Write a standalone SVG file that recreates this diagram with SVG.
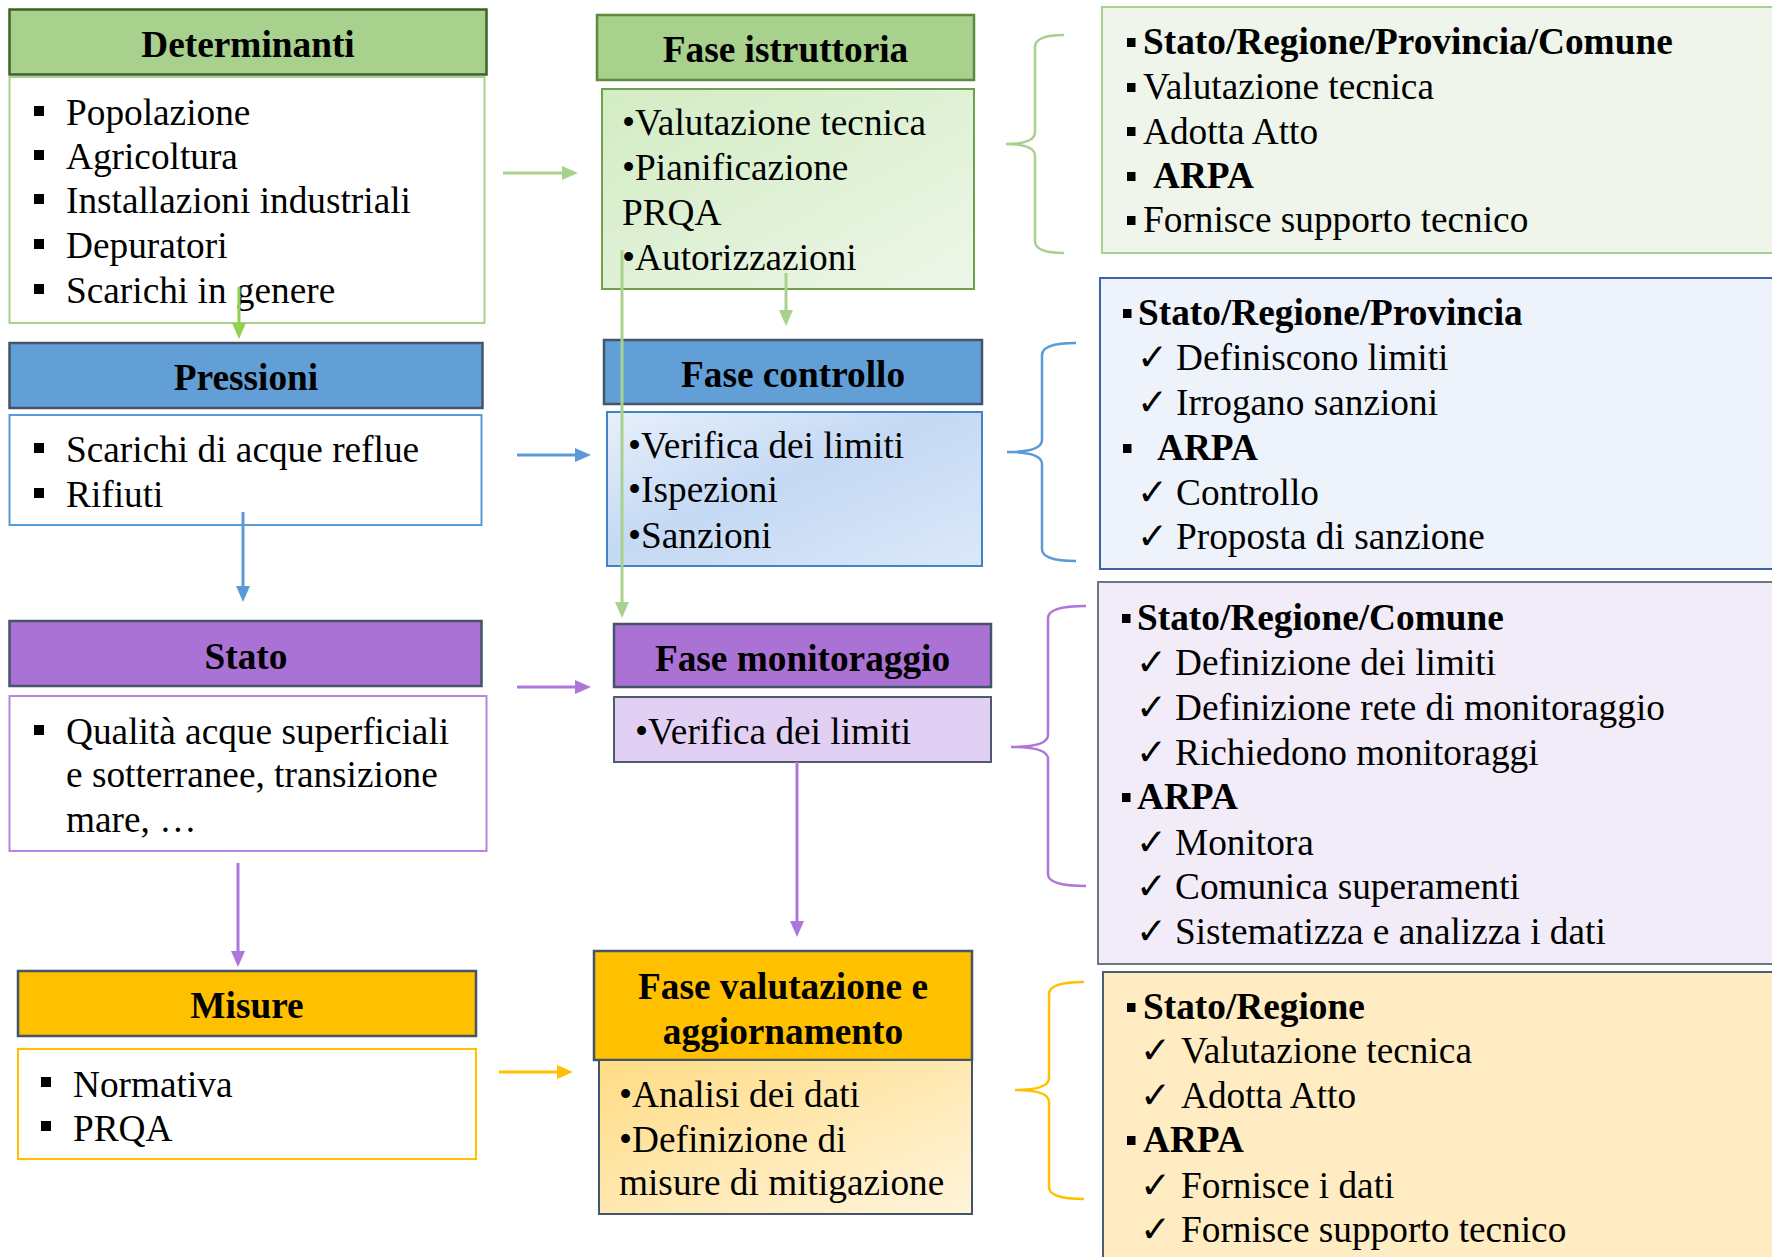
<svg xmlns="http://www.w3.org/2000/svg" width="1772" height="1257" viewBox="0 0 1772 1257">
  <style>
    .t { font-family: "Liberation Serif", "Times New Roman", serif; font-size: 37.3px; fill: #000; transform: translate(0px, 2px); }
    .b { font-weight: bold; }
    .h { font-weight: bold; text-anchor: middle; }
    .chk { font-family: "DejaVu Sans", sans-serif; font-size: 37px; }
    .sq { fill: #000; }
    .hdr { stroke-width: 2.5; }
    .body { stroke-width: 2; }
    .link { fill: none; stroke-width: 3; }
    .brace { fill: none; stroke-width: 2.5; }
  </style>
  <defs>
    <marker id="ah-lg" markerUnits="userSpaceOnUse" markerWidth="16" markerHeight="14" refX="2" refY="7" orient="auto"><path d="M0,0 L16,7 L0,14 z" fill="#A9D18E"/></marker>
    <marker id="ah-bg" markerUnits="userSpaceOnUse" markerWidth="16" markerHeight="14" refX="2" refY="7" orient="auto"><path d="M0,0 L16,7 L0,14 z" fill="#92D050"/></marker>
    <marker id="ah-b" markerUnits="userSpaceOnUse" markerWidth="16" markerHeight="14" refX="2" refY="7" orient="auto"><path d="M0,0 L16,7 L0,14 z" fill="#5B9BD5"/></marker>
    <marker id="ah-p" markerUnits="userSpaceOnUse" markerWidth="16" markerHeight="14" refX="2" refY="7" orient="auto"><path d="M0,0 L16,7 L0,14 z" fill="#AE76D8"/></marker>
    <marker id="ah-y" markerUnits="userSpaceOnUse" markerWidth="16" markerHeight="14" refX="2" refY="7" orient="auto"><path d="M0,0 L16,7 L0,14 z" fill="#FFC000"/></marker>
    <linearGradient id="g-green" x1="0" y1="0" x2="1" y2="1">
      <stop offset="0" stop-color="#D2ECC3"/>
      <stop offset="1" stop-color="#EDF6E8"/>
    </linearGradient>
    <linearGradient id="g-blue" x1="0" y1="0" x2="1" y2="1">
      <stop offset="0" stop-color="#E8F0FB"/>
      <stop offset="0.45" stop-color="#C4D9F4"/>
      <stop offset="1" stop-color="#DCE8F8"/>
    </linearGradient>
    <linearGradient id="g-yellow" x1="0" y1="0" x2="1" y2="1">
      <stop offset="0" stop-color="#FFDC84"/>
      <stop offset="1" stop-color="#FFF4DC"/>
    </linearGradient>
  </defs>

  <!-- Left column: DPSIR chain -->
  <g id="determinanti">
    <rect class="hdr" x="9.5" y="9.5" width="477" height="65" fill="#A9D18E" stroke="#3E6129"/>
    <text class="t h" x="248" y="55">Determinanti</text>
    <rect class="body" x="9.5" y="77" width="475" height="246" fill="#FFFFFF" stroke="#A9D18E"/>
    <rect class="sq" x="34" y="106" width="10" height="10"/>
    <text class="t" x="66" y="123">Popolazione</text>
    <rect class="sq" x="34" y="150" width="10" height="10"/>
    <text class="t" x="66" y="167">Agricoltura</text>
    <rect class="sq" x="34" y="194" width="10" height="10"/>
    <text class="t" x="66" y="211">Installazioni industriali</text>
    <rect class="sq" x="34" y="239" width="10" height="10"/>
    <text class="t" x="66" y="256">Depuratori</text>
    <rect class="sq" x="34" y="284" width="10" height="10"/>
    <text class="t" x="66" y="301">Scarichi in genere</text>
  </g>

  <g id="pressioni">
    <rect class="hdr" x="9.5" y="343" width="473" height="65" fill="#629FD6" stroke="#44546A"/>
    <text class="t h" x="246" y="388">Pressioni</text>
    <rect class="body" x="9.5" y="415" width="472" height="110" fill="#FFFFFF" stroke="#5B9BD5"/>
    <rect class="sq" x="34" y="443" width="10" height="10"/>
    <text class="t" x="66" y="460">Scarichi di acque reflue</text>
    <rect class="sq" x="34" y="488" width="10" height="10"/>
    <text class="t" x="66" y="505">Rifiuti</text>
  </g>

  <g id="stato">
    <rect class="hdr" x="9.5" y="621" width="472" height="65" fill="#AA72D4" stroke="#44546A"/>
    <text class="t h" x="246" y="667">Stato</text>
    <rect class="body" x="9.5" y="696" width="477" height="155" fill="#FFFFFF" stroke="#B883E2"/>
    <rect class="sq" x="34" y="725" width="10" height="10"/>
    <text class="t" x="66" y="742">Qualità acque superficiali</text>
    <text class="t" x="66" y="785">e sotterranee, transizione</text>
    <text class="t" x="66" y="830">mare, …</text>
  </g>

  <g id="misure">
    <rect class="hdr" x="18" y="971" width="458" height="65" fill="#FFC000" stroke="#44546A"/>
    <text class="t h" x="247" y="1016">Misure</text>
    <rect class="body" x="18" y="1049" width="458" height="110" fill="#FFFFFF" stroke="#FFC000"/>
    <rect class="sq" x="41" y="1077" width="10" height="10"/>
    <text class="t" x="73" y="1095">Normativa</text>
    <rect class="sq" x="41" y="1121" width="10" height="10"/>
    <text class="t" x="73" y="1139">PRQA</text>
  </g>

  <!-- Middle column: procedural phases -->
  <g id="fase-istruttoria">
    <rect class="hdr" x="597" y="15" width="377" height="65" fill="#A9D18E" stroke="#5D8A3E"/>
    <text class="t h" x="785.5" y="60">Fase istruttoria</text>
    <rect class="body" x="602" y="89" width="372" height="200" fill="url(#g-green)" stroke="#6FA04E"/>
    <text class="t" x="622" y="133">•Valutazione tecnica</text>
    <text class="t" x="622" y="178">•Pianificazione</text>
    <text class="t" x="622" y="223">PRQA</text>
    <text class="t" x="622" y="268">•Autorizzazioni</text>
  </g>

  <g id="fase-controllo">
    <rect class="hdr" x="604" y="340" width="378" height="64" fill="#629FD6" stroke="#44546A"/>
    <text class="t h" x="793" y="385">Fase controllo</text>
    <rect class="body" x="607" y="412" width="375" height="154" fill="url(#g-blue)" stroke="#3D85C6"/>
    <text class="t" x="628" y="456">•Verifica dei limiti</text>
    <text class="t" x="628" y="500">•Ispezioni</text>
    <text class="t" x="628" y="546">•Sanzioni</text>
  </g>

  <g id="fase-monitoraggio">
    <rect class="hdr" x="614" y="624" width="377" height="63" fill="#AA72D4" stroke="#44546A"/>
    <text class="t h" x="802.5" y="669">Fase monitoraggio</text>
    <rect class="body" x="614" y="697" width="377" height="65" fill="#E2D0F4" stroke="#4F5B6B"/>
    <text class="t" x="635" y="742">•Verifica dei limiti</text>
  </g>

  <g id="fase-valutazione">
    <rect class="hdr" x="594" y="951" width="378" height="109" fill="#FFC000" stroke="#44546A"/>
    <text class="t h" x="783" y="997">Fase valutazione e</text>
    <text class="t h" x="783" y="1042">aggiornamento</text>
    <rect class="body" x="599" y="1060" width="373" height="154" fill="url(#g-yellow)" stroke="#44546A"/>
    <text class="t" x="619" y="1105">•Analisi dei dati</text>
    <text class="t" x="619" y="1150">•Definizione di</text>
    <text class="t" x="619" y="1193">misure di mitigazione</text>
  </g>

  <!-- Right column: responsibilities per phase -->
  <g id="ruoli-istruttoria">
    <rect class="body" x="1102" y="7" width="690" height="246" fill="#EFF5EA" stroke="#A9D18E"/>
    <rect class="sq" x="1127" y="38" width="8.5" height="9"/>
    <text class="t b" x="1143" y="52">Stato/Regione/Provincia/Comune</text>
    <rect class="sq" x="1127" y="83" width="8.5" height="9"/>
    <text class="t" x="1143" y="97">Valutazione tecnica</text>
    <rect class="sq" x="1127" y="127" width="8.5" height="9"/>
    <text class="t" x="1143" y="142">Adotta Atto</text>
    <rect class="sq" x="1127" y="172" width="8.5" height="9"/>
    <text class="t b" x="1153" y="186">ARPA</text>
    <rect class="sq" x="1127" y="216" width="8.5" height="9"/>
    <text class="t" x="1143" y="230">Fornisce supporto tecnico</text>
  </g>

  <g id="ruoli-controllo">
    <rect class="body" x="1100" y="278" width="690" height="291" fill="#EEF3FB" stroke="#3A63A8"/>
    <rect class="sq" x="1123" y="309" width="8.5" height="9"/>
    <text class="t b" x="1138" y="323">Stato/Regione/Provincia</text>
    <text class="t" y="368"><tspan class="chk" x="1137">✓</tspan><tspan x="1176">Definiscono limiti</tspan></text>
    <text class="t" y="413"><tspan class="chk" x="1137">✓</tspan><tspan x="1176">Irrogano sanzioni</tspan></text>
    <rect class="sq" x="1123" y="444" width="8.5" height="9"/>
    <text class="t b" x="1157" y="458">ARPA</text>
    <text class="t" y="503"><tspan class="chk" x="1137">✓</tspan><tspan x="1176">Controllo</tspan></text>
    <text class="t" y="547"><tspan class="chk" x="1137">✓</tspan><tspan x="1176">Proposta di sanzione</tspan></text>
  </g>

  <g id="ruoli-monitoraggio">
    <rect class="body" x="1098" y="582" width="690" height="382" fill="#F1ECF8" stroke="#6B7685"/>
    <rect class="sq" x="1122" y="614" width="8.5" height="9"/>
    <text class="t b" x="1137" y="628">Stato/Regione/Comune</text>
    <text class="t" y="673"><tspan class="chk" x="1136">✓</tspan><tspan x="1175">Definizione dei limiti</tspan></text>
    <text class="t" y="718"><tspan class="chk" x="1136">✓</tspan><tspan x="1175">Definizione rete di monitoraggio</tspan></text>
    <text class="t" y="763"><tspan class="chk" x="1136">✓</tspan><tspan x="1175">Richiedono monitoraggi</tspan></text>
    <rect class="sq" x="1122" y="793" width="8.5" height="9"/>
    <text class="t b" x="1137" y="807">ARPA</text>
    <text class="t" y="853"><tspan class="chk" x="1136">✓</tspan><tspan x="1175">Monitora</tspan></text>
    <text class="t" y="897"><tspan class="chk" x="1136">✓</tspan><tspan x="1175">Comunica superamenti</tspan></text>
    <text class="t" y="942"><tspan class="chk" x="1136">✓</tspan><tspan x="1175">Sistematizza e analizza i dati</tspan></text>
  </g>

  <g id="ruoli-valutazione">
    <rect class="body" x="1103" y="972" width="690" height="300" fill="#FFECC2" stroke="#4D5D6E"/>
    <rect class="sq" x="1127" y="1003" width="8.5" height="9"/>
    <text class="t b" x="1143" y="1017">Stato/Regione</text>
    <text class="t" y="1061"><tspan class="chk" x="1140">✓</tspan><tspan x="1181">Valutazione tecnica</tspan></text>
    <text class="t" y="1106"><tspan class="chk" x="1140">✓</tspan><tspan x="1181">Adotta Atto</tspan></text>
    <rect class="sq" x="1127" y="1136" width="8.5" height="9"/>
    <text class="t b" x="1143" y="1150">ARPA</text>
    <text class="t" y="1196"><tspan class="chk" x="1140">✓</tspan><tspan x="1181">Fornisce i dati</tspan></text>
    <text class="t" y="1240"><tspan class="chk" x="1140">✓</tspan><tspan x="1181">Fornisce supporto tecnico</tspan></text>
  </g>

  <!-- Curly braces grouping each phase with its responsibilities -->
  <g id="braces">
    <path class="brace" stroke="#A9D18E" d="M1064,35 Q1035,35 1035,47 L1035,132 Q1035,144 1006,144 Q1035,144 1035,156 L1035,241 Q1035,253 1064,253"/>
    <path class="brace" stroke="#5B9BD5" d="M1076,343 Q1042,343 1042,355 L1042,440 Q1042,452 1007,452 Q1042,452 1042,464 L1042,549 Q1042,561 1076,561"/>
    <path class="brace" stroke="#AE76D8" d="M1086,606 Q1048,606 1048,618 L1048,735 Q1048,747 1011,747 Q1048,747 1048,759 L1048,874 Q1048,886 1086,886"/>
    <path class="brace" stroke="#FFC000" d="M1084,982 Q1049,982 1049,994 L1049,1078 Q1049,1090 1015,1090 Q1049,1090 1049,1102 L1049,1187 Q1049,1199 1084,1199"/>
  </g>

  <!-- Connectors -->
  <g id="connectors">
    <path class="link" stroke="#92D050" d="M239,287 L239,325" marker-end="url(#ah-bg)"/>
    <path class="link" stroke="#5B9BD5" d="M243,512 L243,588" marker-end="url(#ah-b)"/>
    <path class="link" stroke="#AE76D8" d="M238,863 L238,953" marker-end="url(#ah-p)"/>
    <path class="link" stroke="#A9D18E" d="M503,173 L564,173" marker-end="url(#ah-lg)"/>
    <path class="link" stroke="#5B9BD5" d="M517,455 L577,455" marker-end="url(#ah-b)"/>
    <path class="link" stroke="#AE76D8" d="M517,687 L577,687" marker-end="url(#ah-p)"/>
    <path class="link" stroke="#FFC000" d="M499,1072 L559,1072" marker-end="url(#ah-y)"/>
    <path class="link" stroke="#A9D18E" d="M786,273 L786,312" marker-end="url(#ah-lg)"/>
    <path class="link" stroke="#A9D18E" d="M622,250 L622,604" marker-end="url(#ah-lg)"/>
    <path class="link" stroke="#AE76D8" d="M797,762 L797,923" marker-end="url(#ah-p)"/>
  </g>
</svg>
